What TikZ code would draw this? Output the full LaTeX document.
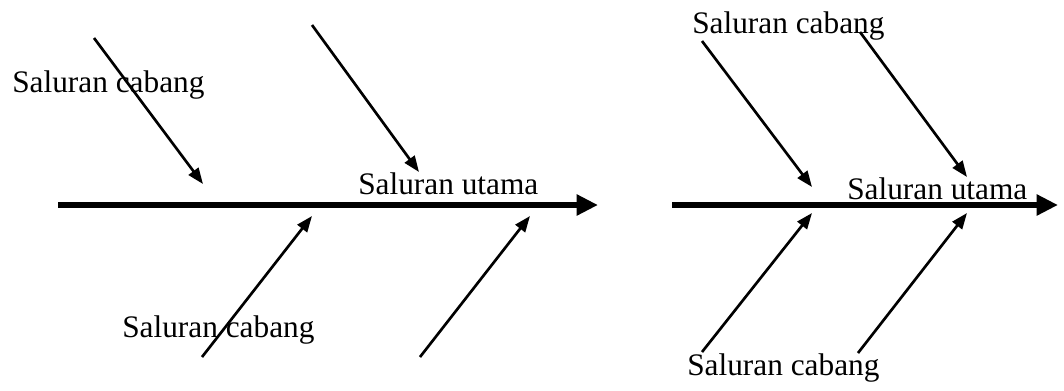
\documentclass[tikz,border=0pt]{standalone}
\usepackage{fontspec}
\setmainfont{Liberation Serif}
\usetikzlibrary{arrows.meta}
\begin{document}
\begin{tikzpicture}[x=0.75pt,y=-0.75pt,
  mainline/.style={line width=5pt,-{Triangle[length=16pt,width=15pt]}},
  branch/.style={line width=2pt,-{Triangle[length=12pt,width=9pt]}},
  lbl/.style={inner sep=0pt,anchor=base west,font=\fontsize{23.5pt}{28pt}\selectfont}]
\useasboundingbox (0,0) rectangle (1064,390);

% left fishbone
\coordinate (la) at (58,205);
\coordinate (lb) at (598,205);
\draw[mainline] (la) -- (lb);
\coordinate (l1s) at (94,38);   \coordinate (l1e) at (203,184);
\coordinate (l2s) at (312,25);  \coordinate (l2e) at (419,172);
\coordinate (l3s) at (202,357); \coordinate (l3e) at (312,216);
\coordinate (l4s) at (420,357); \coordinate (l4e) at (530,216);
\draw[branch] (l1s) -- (l1e);
\draw[branch] (l2s) -- (l2e);
\draw[branch] (l3s) -- (l3e);
\draw[branch] (l4s) -- (l4e);
\node[lbl] (lcab1) at (12,92) {Saluran cabang};
\node[lbl] (lut) at (358,194) {Saluran utama};
\node[lbl] (lcab2) at (122,337) {Saluran cabang};

% right fishbone
\coordinate (ra) at (672,205);
\coordinate (rb) at (1058,205);
\draw[mainline] (ra) -- (rb);
\coordinate (r1s) at (702,41);  \coordinate (r1e) at (812,187);
\coordinate (r2s) at (860,32);  \coordinate (r2e) at (967,177);
\coordinate (r3s) at (702,352); \coordinate (r3e) at (812,213);
\coordinate (r4s) at (858,353); \coordinate (r4e) at (967,213);
\draw[branch] (r1s) -- (r1e);
\draw[branch] (r2s) -- (r2e);
\draw[branch] (r3s) -- (r3e);
\draw[branch] (r4s) -- (r4e);
\node[lbl] (rcab1) at (692,33) {Saluran cabang};
\node[lbl] (rut) at (847,199) {Saluran utama};
\node[lbl] (rcab2) at (687,375) {Saluran cabang};
\end{tikzpicture}
\end{document}
